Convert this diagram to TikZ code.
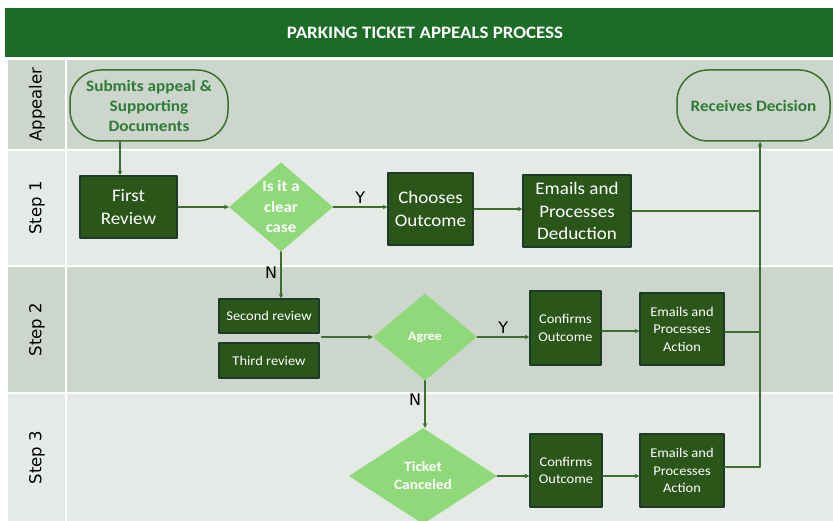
\documentclass[tikz,border=0pt]{standalone}
\usepackage{fontspec}
\setmainfont[FakeStretch=1.08]{Carlito}
\newfontfamily\lanefont{DejaVu Sans}
\usetikzlibrary{shapes.geometric}
\definecolor{titlegreen}{HTML}{1C6B27}
\definecolor{laneA}{HTML}{E5EAE6}
\definecolor{laneB}{HTML}{CDD6CD}
\definecolor{boxgreen}{HTML}{2A561A}
\definecolor{boxline}{HTML}{1B3A2A}
\definecolor{decgreen}{HTML}{8FD97A}
\definecolor{lineg}{HTML}{3C6E2E}
\definecolor{textg}{HTML}{2E7B35}
\begin{document}
\begin{tikzpicture}[x=1pt,y=-1pt,line join=round,line cap=round,>=stealth]
	\tikzset{box/.style={draw=boxline,fill=boxgreen,line width=1.2pt,text=white,align=center,inner sep=0pt},
		dec/.style={diamond,fill=decgreen,text=white,align=center,inner sep=0pt},
		term/.style={draw=lineg,line width=1.5pt,rounded corners=31pt,text=textg,align=center,inner sep=0pt,font=\bfseries\fontsize{15.9}{20}\selectfont},
		flow/.style={draw=lineg,line width=1.1pt},
		yn/.style={font=\lanefont\fontsize{16}{16}\selectfont},
		big/.style={font=\fontsize{17.6}{22.5}\selectfont},
		small/.style={font=\fontsize{13.4}{17.5}\selectfont}}
	\fill[white] (0,0) rectangle (833,521);
	\useasboundingbox (0,0) rectangle (833,521);
	\fill[titlegreen] (5,8) rectangle (833,57);
	\node[text=white,font=\bfseries\fontsize{17.5}{17.5}\selectfont] (ttl) at (425,33) {PARKING TICKET APPEALS PROCESS};
	\foreach \ya/\yb/\c/\lab [count=\i] in {60/149/laneB/Appealer,151/265/laneA/Step 1,267/392/laneB/Step 2,394/521/laneA/Step 3}
	{\fill[\c] (8,\ya) rectangle (833,\yb);
	\draw[white,line width=1.5pt] (66,\ya)--(66,\yb);
	\node[rotate=90,font=\lanefont\fontsize{16.5}{16.5}\selectfont] (lane\i) at (37,{(\ya+\yb)/2}) {\lab};}
	\node[term,minimum width=158pt,minimum height=71pt] (sub) at (149,105.5) {Submits appeal \&\\ Supporting\\ Documents};
	\node[term,minimum width=153pt,minimum height=71pt] (rcv) at (753.5,105.5) {Receives Decision};
	\node[box,big,minimum width=97pt,minimum height=62pt] (fr) at (128.5,207) {First\\ Review};
	\node[dec,font=\bfseries\fontsize{15.6}{20.5}\selectfont,minimum width=104pt,minimum height=88pt] (clr) at (281,207) {Is it a\\ clear\\ case};
	\node[box,big,minimum width=85pt,minimum height=72pt] (cho) at (430.5,209) {Chooses\\ Outcome};
	\node[box,big,minimum width=108pt,minimum height=72pt] (ded) at (577,211) {Emails and\\ Processes\\ Deduction};
	\node[box,font=\fontsize{13.4}{15}\selectfont,minimum width=100pt,minimum height=34pt] (sec) at (269,316) {Second review};
	\node[box,font=\fontsize{13.4}{15}\selectfont,minimum width=100pt,minimum height=35pt] (thr) at (269,360.5) {Third review};
	\node[dec,font=\bfseries\fontsize{12.8}{17}\selectfont,minimum width=104pt,minimum height=87pt] (agr) at (425,337) {Agree};
	\node[box,small,minimum width=71pt,minimum height=74pt] (cf2) at (565.5,328) {Confirms\\ Outcome};
	\node[box,small,minimum width=84pt,minimum height=72pt] (ac2) at (682,329) {Emails and\\ Processes\\ Action};
	\node[dec,font=\bfseries\fontsize{14.2}{18}\selectfont,minimum width=148pt,minimum height=96pt] (tkt) at (423,476) {Ticket\\ Canceled};
	\node[box,small,minimum width=72pt,minimum height=73pt] (cf3) at (566,470.5) {Confirms\\ Outcome};
	\node[box,small,minimum width=84pt,minimum height=73pt] (ac3) at (682,470.5) {Emails and\\ Processes\\ Action};
	\coordinate (bus) at (760,467);
	\draw[flow,->] ([xshift=-29pt]sub.south) -- ([xshift=-29pt]sub.south |- fr.north);
	\draw[flow,->] (fr) -- (clr);
	\draw[flow,->] (clr.east) -- (clr.east -| cho.west) node[yn,midway,above] {Y};
	\draw[flow,->] (cho.east) -- (cho.east -| ded.west);
	\draw[flow] (ded.east) -- (ded.east -| bus);
	\draw[flow,->] (clr.south) -- (clr.south |- sec.north) node[yn,pos=.45,left] {N};
	\draw[flow,->] ([xshift=2pt]agr.west -| sec.east) -- (agr.west);
	\draw[flow,->] (agr.east) -- (agr.east -| cf2.west) node[yn,midway,above] {Y};
	\draw[flow,->] ([yshift=-3pt]cf2.east) -- ([yshift=-3pt]cf2.east -| ac2.west);
	\draw[flow] ([yshift=-3pt]ac2.east) -- ([yshift=-3pt]ac2.east -| bus);
	\draw[flow,->] (agr.south) -- (agr.south |- tkt.north) node[yn,pos=.4,left] {N};
	\draw[flow,->] (tkt.east) -- (tkt.east -| cf3.west);
	\draw[flow,->] (cf3.east |- tkt.east) -- (ac3.west |- tkt.east);
	\draw[flow,->] (ac3.east |- bus) -- (bus) -- (rcv.south -| bus);
\end{tikzpicture}
\end{document}
